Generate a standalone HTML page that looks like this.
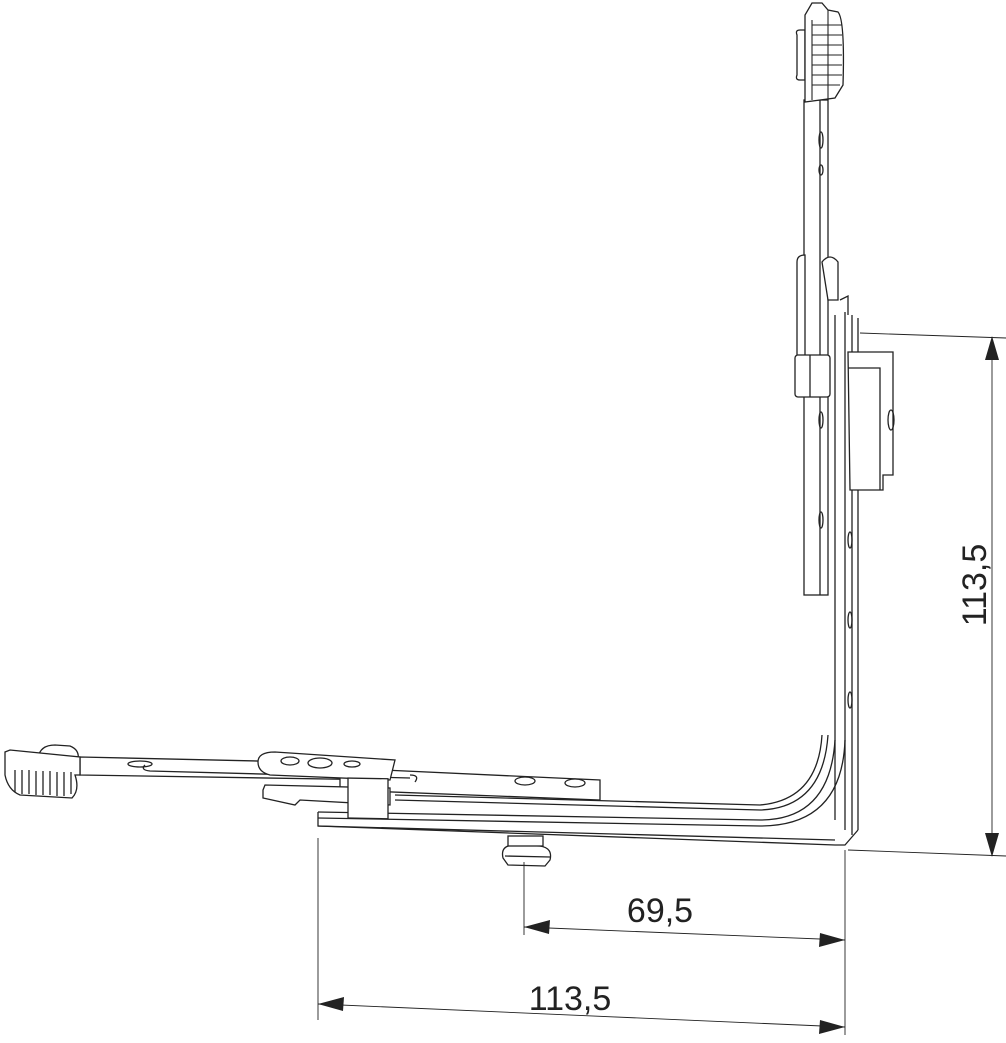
<!DOCTYPE html>
<html><head><style>html,body{margin:0;padding:0;background:#fff}svg{display:block}</style></head>
<body>
<svg width="1006" height="1043" viewBox="0 0 1006 1043" xmlns="http://www.w3.org/2000/svg" font-family="Liberation Sans, sans-serif">
<g fill="none" stroke="#222" stroke-width="1.3">
<!-- vertical rod -->
<rect x="804" y="100" width="24" height="495" fill="#fff"/>
<line x1="820" y1="100" x2="820" y2="595"/>
<ellipse cx="821" cy="140" rx="2" ry="8"/><ellipse cx="821" cy="170" rx="2" ry="5"/>
<ellipse cx="821" cy="420" rx="2" ry="8"/><ellipse cx="821" cy="520" rx="2" ry="8"/>
<!-- top knob -->
<path d="M797 35 Q795 30 800 30 L805 30 L805 80 L800 80 Q795 80 797 75 Z" fill="#fff"/>
<path d="M805 102 L805 15 L812 3 L822 3 L828 10 L838 12 Q845 20 843 85 L835 98 L805 102 Z" fill="#fff"/>
<g stroke-width="1.1">
<path d="M812 25 h30 M812 35 h30 M812 45 h30 M812 55 h30 M812 65 h30 M812 75 h30 M812 85 h28"/>
<line x1="812" y1="20" x2="812" y2="100"/><line x1="828" y1="10" x2="828" y2="100"/>
</g>
<!-- bracket -->
<path d="M797 262 Q797 255 805 255 L805 360 L797 355 Z" fill="#fff"/>
<path d="M822 262 Q830 252 838 262 L838 300 L828 300 Z" fill="#fff"/>
<rect x="795" y="355" width="35" height="42" rx="3" fill="#fff"/>
<line x1="810" y1="355" x2="810" y2="397"/>
<!-- vertical frame -->
<path d="M835 315 L835 820 M845 312 L845 830 M852 315 L852 835 M858 318 L858 830"/>
<path d="M840 300 L848 296 L848 315"/>
<ellipse cx="850" cy="620" rx="2" ry="8"/><ellipse cx="850" cy="700" rx="2" ry="8"/><ellipse cx="850" cy="540" rx="2" ry="8"/>
<!-- box -->
<path d="M848 352 L893 352 L893 475 L883 475 L883 490 L850 490 Z" fill="#fff"/>
<path d="M848 368 L880 368 L880 490"/>
<ellipse cx="891" cy="420" rx="3" ry="10"/>
<!-- corner curve / bottom profile -->
<path d="M318 812 L760 820 Q830 820 835 740"/>
<path d="M318 818 L760 826 Q842 826 845 740"/>
<path d="M395 800 L760 810 Q823 808 828 735"/>
<path d="M395 795 L760 805 Q818 800 822 735"/>
<path d="M318 812 L318 826 L835 845 L845 845 L858 830"/>
<path d="M318 826 L835 840"/>
<!-- pin -->
<path d="M503 858 Q500 845 515 845 L540 846 Q553 848 550 860 L545 866 L508 865 Z" fill="#fff"/>
<line x1="505" y1="856" x2="550" y2="857"/>
<rect x="508" y="836" width="35" height="10" fill="#fff"/>
<!-- bottom horizontal rod -->
<path d="M80 757 L390 764 L390 780 L80 775 Z" fill="#fff"/>
<path d="M340 768 L600 780 L600 800 L340 790 Z" fill="#fff"/>
<ellipse cx="140" cy="764" rx="12" ry="3"/>
<path d="M145 765 Q140 770 150 771 L410 778 M415 782 Q420 775 410 775"/>
<ellipse cx="525" cy="781" rx="10" ry="4"/><ellipse cx="575" cy="783" rx="10" ry="4"/>
<path d="M258 762 Q258 752 275 752 L395 760 L390 780 L270 775 Q258 772 258 762 Z" fill="#fff"/>
<ellipse cx="290" cy="761" rx="9" ry="4"/><ellipse cx="320" cy="763" rx="12" ry="5"/><ellipse cx="352" cy="764" rx="8" ry="3"/>
<path d="M263 790 L263 798 L295 805 L300 800 L390 805 L390 788 L265 785 Z" fill="#fff"/>
<rect x="348" y="772" width="40" height="40" fill="#fff" transform="skewY(1)"/>
<!-- left knob -->
<path d="M38 758 Q40 745 55 745 L70 746 Q80 750 78 760 Z" fill="#fff"/>
<path d="M5 752 L10 750 L80 757 L80 775 L75 775 Q80 790 72 798 L20 795 Q8 790 5 775 Z" fill="#fff"/>
<path d="M15 770 v22 M22 770 v24 M29 770 v24 M36 771 v24 M43 771 v24 M50 771 v24 M57 772 v24 M64 772 v24 M71 772 v22"/>
</g>
<!-- dimensions -->
<g stroke="#222" stroke-width="0.9" fill="none">
<line x1="860" y1="333" x2="1006" y2="338"/>
<line x1="848" y1="850" x2="1006" y2="856"/>
<line x1="992" y1="340" x2="992" y2="855"/>
<line x1="318" y1="838" x2="318" y2="1020"/>
<line x1="524" y1="862" x2="524" y2="935"/>
<line x1="845" y1="850" x2="845" y2="1035"/>
<line x1="524" y1="927" x2="845" y2="940"/>
<line x1="318" y1="1004" x2="845" y2="1027"/>
</g>
<g fill="#222">
<path d="M992 336 L985 360 L999 360 Z"/>
<path d="M992 857 L985 833 L999 833 Z"/>
<path d="M524 927 L550 920 L549 934 Z"/>
<path d="M845 940 L819 947 L820 933 Z"/>
<path d="M318 1004 L344 997 L343 1011 Z"/>
<path d="M845 1027 L819 1034 L820 1020 Z"/>
</g>
<g font-size="34" fill="#222">
<text x="660" y="922" text-anchor="middle">69,5</text>
<text x="570" y="1010" text-anchor="middle">113,5</text>
<text transform="translate(986,585) rotate(-90)" text-anchor="middle">113,5</text>
</g>
</svg>
</body></html>
